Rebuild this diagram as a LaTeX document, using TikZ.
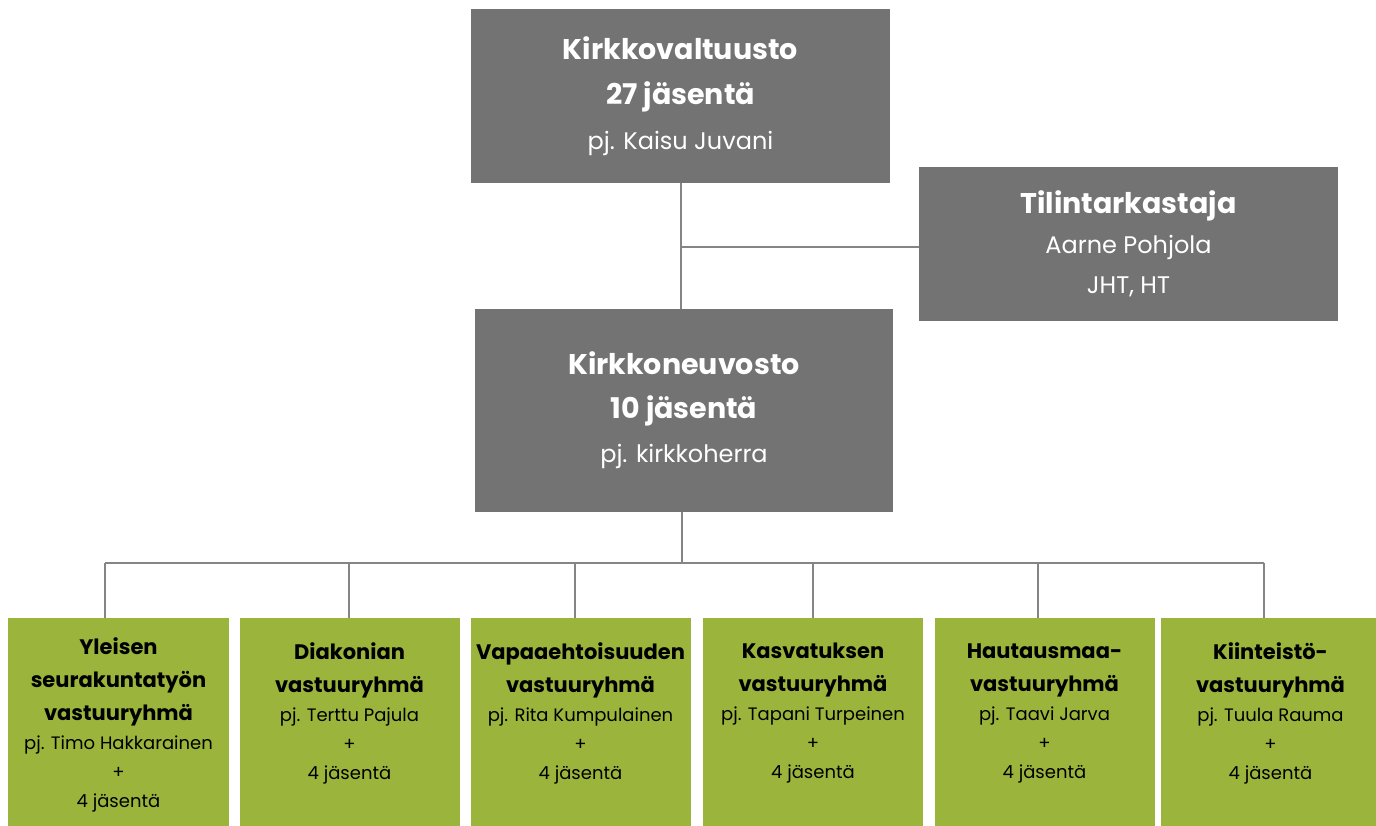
\documentclass[tikz,border=0pt]{standalone}
\usepackage{fontspec}
\setmainfont{Poppins}
\definecolor{harmaa}{HTML}{737373}
\definecolor{vihrea}{HTML}{9BB43B}
\definecolor{viiva}{HTML}{858585}
\newcommand{\otsi}[1]{{\bfseries #1}}
\newcommand{\pieni}[1]{{\fontsize{24}{45}\selectfont #1}}
\newcommand{\rotsi}[1]{{\fontsize{21}{29}\selectfont\bfseries #1}}

\begin{document}
\begin{tikzpicture}[x=1pt,y=-1pt]
\tikzset{johto/.style={fill=harmaa, text=white, align=center, inner sep=0pt, font=\fontsize{28.5}{45}\selectfont},
ryhma/.style={fill=vihrea, text=black, align=center, inner sep=0pt, anchor=north, minimum width=220pt, minimum height=214pt, font=\fontsize{18}{29}\selectfont},
yhteys/.style={draw=viiva, line width=1.5pt}}
\useasboundingbox (0,0) rectangle (1376,825);
\node[johto, minimum width=419pt, minimum height=174pt] (valtuusto) at (680.5,96) {\otsi{Kirkkovaltuusto}\\ \otsi{27 jäsentä}\\ \pieni{pj. Kaisu Juvani}};
\node[johto, minimum width=419pt, minimum height=154pt, font=\fontsize{28.5}{40}\selectfont] (tilintarkastaja) at (1128.5,244) {\otsi{Tilintarkastaja}\\ \pieni{Aarne Pohjola}\\ \pieni{JHT, HT}};
\node[johto, minimum width=418pt, minimum height=203pt, font=\fontsize{28.5}{44}\selectfont] (neuvosto) at (684,410.5) {\otsi{Kirkkoneuvosto}\\ \otsi{10 jäsentä}\\ \pieni{pj. kirkkoherra}};
\node[ryhma, minimum width=221pt] (R1) at (118.5,618) {\rotsi{Yleisen}\\[4pt] \rotsi{seurakuntatyön}\\[4pt] \rotsi{vastuuryhmä}\\ pj. Timo Hakkarainen\\ +\\ 4 jäsentä};
\node[ryhma] (R2) at (349.5,618) {\rotsi{Diakonian}\\[4pt] \rotsi{vastuuryhmä}\\ pj. Terttu Pajula\\ +\\ 4 jäsentä\\ ~};
\node[ryhma] (R3) at (580.5,618) {\rotsi{Vapaaehtoisuuden}\\[4pt] \rotsi{vastuuryhmä}\\ pj. Rita Kumpulainen\\ +\\ 4 jäsentä\\ ~};
\node[ryhma] (R4) at (813,618) {\rotsi{Kasvatuksen}\\[4pt] \rotsi{vastuuryhmä}\\ pj. Tapani Turpeinen\\ +\\ 4 jäsentä\\ ~};
\node[ryhma] (R5) at (1044.5,618) {\rotsi{Hautausmaa-}\\[4pt] \rotsi{vastuuryhmä}\\ pj. Taavi Jarva\\ +\\ 4 jäsentä\\ ~};
\node[ryhma] (R6) at (1270.5,618) {\rotsi{Kiinteistö-}\\[4pt] \rotsi{vastuuryhmä}\\ pj. Tuula Rauma\\ +\\ 4 jäsentä\\ ~};
\coordinate (haara) at (681,247);
\coordinate (jako) at (682,563);
\coordinate (J1) at (105,563);
\coordinate (J2) at (349,563);
\coordinate (J3) at (575,563);
\coordinate (J4) at (813,563);
\coordinate (J5) at (1038,563);
\coordinate (J6) at (1264,563);
\draw[yhteys] (valtuusto.south -| haara) -- (neuvosto.north -| haara);
\draw[yhteys] (haara) -- (haara -| tilintarkastaja.west);
\draw[yhteys] (neuvosto.south -| jako) -- (jako);
\draw[yhteys] (J1) -- (J6);
\foreach \i in {1,...,6} \draw[yhteys] (J\i) -- (J\i |- R\i.north);
\end{tikzpicture}
\end{document}
